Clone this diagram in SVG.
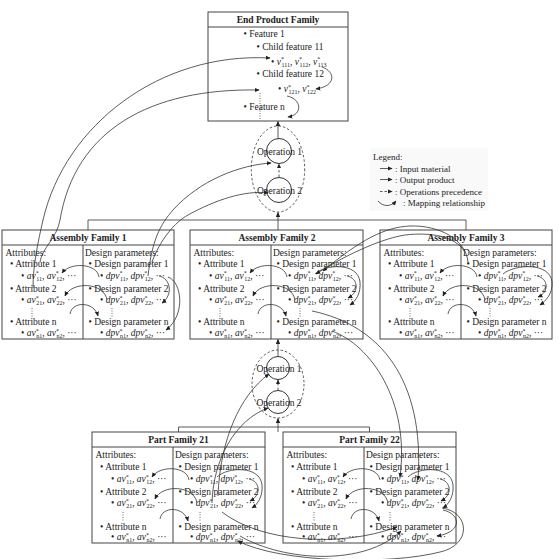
<svg xmlns="http://www.w3.org/2000/svg" width="559" height="559" viewBox="0 0 559 559">
<style>
.t{font-family:"Liberation Serif","Times New Roman",serif;font-size:9.5px;fill:#222}
.b{font-weight:bold}
.i{font-style:italic}
.s{font-size:6px}
.lg{font-size:9px}
.box{fill:#fff;stroke:#444;stroke-width:1}
.bl{stroke:#444;stroke-width:1}
.ln{fill:none;stroke:#333;stroke-width:0.8}
.ar{fill:none;stroke:#333;stroke-width:0.8;marker-end:url(#ah)}
.da{stroke-dasharray:2.5,2}
.vd{stroke:#444;stroke-width:0.8;stroke-dasharray:1,1.5}
</style>
<defs>
<marker id="ah" viewBox="0 0 8 8" refX="7" refY="4" markerWidth="5" markerHeight="5" markerUnits="userSpaceOnUse" orient="auto"><path d="M0,0.5 L8,4 L0,7.5 z" fill="#222"/></marker>
</defs>
<rect width="559" height="559" fill="#fff"/>

<g id="ep">
<rect class="box" x="208" y="12" width="140" height="109"/>
<line class="bl" x1="208" y1="27" x2="348" y2="27"/>
<text class="t b" x="278" y="22.5" text-anchor="middle">End Product Family</text>
<text class="t" x="243.5" y="37">• Feature 1</text>
<text class="t" x="256.5" y="50">• Child feature 11</text>
<text class="t" x="271" y="64.5">• <tspan class="i">v</tspan><tspan class="s" dy="-3.5">*</tspan><tspan class="s" dx="-2.5" dy="5.5">111</tspan><tspan dy="-2">, </tspan><tspan class="i">v</tspan><tspan class="s" dy="-3.5">*</tspan><tspan class="s" dx="-2.5" dy="5.5">112</tspan><tspan dy="-2">, </tspan><tspan class="i">v</tspan><tspan class="s" dy="-3.5">*</tspan><tspan class="s" dx="-2.5" dy="5.5">113</tspan></text>
<text class="t" x="256.5" y="76.5">• Child feature 12</text>
<text class="t" x="278" y="92">• <tspan class="i">v</tspan><tspan class="s" dy="-3.5">*</tspan><tspan class="s" dx="-2.5" dy="5.5">121</tspan><tspan dy="-2">, </tspan><tspan class="i">v</tspan><tspan class="s" dy="-3.5">*</tspan><tspan class="s" dx="-2.5" dy="5.5">122</tspan></text>
<text class="t" x="243.5" y="110">• Feature n</text>
<line class="vd" x1="260" y1="93" x2="260" y2="120"/>
<path class="ar" d="M322,67 C336,72 336,86 316,89"/>
<path class="ar" d="M287,96 C302,99 303,115 288,117"/>
</g>

<g id="ops-top">
<ellipse cx="278" cy="169" rx="26.7" ry="43" fill="none" stroke="#333" stroke-width="0.8" stroke-dasharray="2.5,2"/>
<circle cx="279" cy="151" r="12.5" fill="none" stroke="#333" stroke-width="1"/>
<circle cx="279" cy="190" r="12.5" fill="none" stroke="#333" stroke-width="1"/>
<text class="t" x="279.5" y="154.5" text-anchor="middle">Operation 1</text>
<text class="t" x="279.5" y="193.5" text-anchor="middle">Operation 2</text>
</g>

<g id="ops-bottom">
<ellipse cx="278" cy="384" rx="26" ry="34" fill="none" stroke="#333" stroke-width="0.8" stroke-dasharray="2.5,2"/>
<circle cx="278" cy="368" r="11.5" fill="none" stroke="#333" stroke-width="1"/>
<circle cx="278" cy="402" r="11.5" fill="none" stroke="#333" stroke-width="1"/>
<text class="t" x="279" y="371.5" text-anchor="middle">Operation 1</text>
<text class="t" x="279" y="405.5" text-anchor="middle">Operation 2</text>
</g>

<g id="legend">
<rect x="370" y="148" width="118" height="63" fill="#f9f9f9"/>
<text class="t lg" x="373" y="160">Legend:</text>
<line class="ar" x1="380" y1="168.5" x2="392" y2="168.5"/>
<text class="t lg" x="395" y="171.5">: Input material</text>
<line class="ar" x1="380" y1="179.5" x2="392" y2="179.5"/>
<text class="t lg" x="395" y="182.5">: Output product</text>
<line class="ar da" x1="380" y1="191.5" x2="392" y2="191.5"/>
<text class="t lg" x="395" y="194.5">: Operations precedence</text>
<path class="ar" d="M378,201 C383,207 391,207 396,201"/>
<text class="t lg" x="403" y="206">: Mapping relationship</text>
</g>

<g id="af1" transform="translate(2,230)">
<rect class="box" width="172" height="109"/>
<line class="bl" x1="0" y1="15" x2="172" y2="15"/>
<line class="bl" x1="81" y1="15" x2="81" y2="109"/>
<text class="t b" x="86" y="11" text-anchor="middle">Assembly Family 1</text>
<text class="t" x="3.5" y="26">Attributes:</text>
<text class="t" x="8" y="37">• Attribute 1</text>
<text class="t" x="19" y="48.5">• <tspan class="i">av</tspan><tspan class="s" dy="-3.5">*</tspan><tspan class="s" dx="-2.5" dy="5.5">11</tspan><tspan dy="-2">, </tspan><tspan class="i">av</tspan><tspan class="s" dy="-3.5">*</tspan><tspan class="s" dx="-2.5" dy="5.5">12</tspan><tspan dy="-2">, ···</tspan></text>
<text class="t" x="8" y="62">• Attribute 2</text>
<text class="t" x="19" y="73">• <tspan class="i">av</tspan><tspan class="s" dy="-3.5">*</tspan><tspan class="s" dx="-2.5" dy="5.5">21</tspan><tspan dy="-2">, </tspan><tspan class="i">av</tspan><tspan class="s" dy="-3.5">*</tspan><tspan class="s" dx="-2.5" dy="5.5">22</tspan><tspan dy="-2">, ···</tspan></text>
<line class="vd" x1="30" y1="78" x2="30" y2="87"/>
<text class="t" x="8" y="95">• Attribute n</text>
<text class="t" x="19" y="106">• <tspan class="i">av</tspan><tspan class="s" dy="-3.5">*</tspan><tspan class="s" dx="-2.5" dy="5.5">n1</tspan><tspan dy="-2">, </tspan><tspan class="i">av</tspan><tspan class="s" dy="-3.5">*</tspan><tspan class="s" dx="-2.5" dy="5.5">n2</tspan><tspan dy="-2">, ···</tspan></text>
<text class="t" x="83" y="26">Design parameters:</text>
<text class="t" x="86.5" y="37">• Design parameter 1</text>
<text class="t" x="98" y="48.5">• <tspan class="i">dpv</tspan><tspan class="s" dy="-3.5">*</tspan><tspan class="s" dx="-2.5" dy="5.5">11</tspan><tspan dy="-2">, </tspan><tspan class="i">dpv</tspan><tspan class="s" dy="-3.5">*</tspan><tspan class="s" dx="-2.5" dy="5.5">12</tspan><tspan dy="-2">, ···</tspan></text>
<text class="t" x="86.5" y="62">• Design parameter 2</text>
<text class="t" x="98" y="73">• <tspan class="i">dpv</tspan><tspan class="s" dy="-3.5">*</tspan><tspan class="s" dx="-2.5" dy="5.5">21</tspan><tspan dy="-2">, </tspan><tspan class="i">dpv</tspan><tspan class="s" dy="-3.5">*</tspan><tspan class="s" dx="-2.5" dy="5.5">22</tspan><tspan dy="-2">, ···</tspan></text>
<line class="vd" x1="110" y1="78" x2="110" y2="87"/>
<text class="t" x="86.5" y="95">• Design parameter n</text>
<text class="t" x="98" y="106">• <tspan class="i">dpv</tspan><tspan class="s" dy="-3.5">*</tspan><tspan class="s" dx="-2.5" dy="5.5">n1</tspan><tspan dy="-2">, </tspan><tspan class="i">dpv</tspan><tspan class="s" dy="-3.5">*</tspan><tspan class="s" dx="-2.5" dy="5.5">n2</tspan><tspan dy="-2">, ···</tspan></text>
<path class="ar" d="M97,47 C95,33 68,32 60,43"/>
<path class="ar" d="M105,70 C102,52 70,51 63,66"/>
<path class="ar" d="M68,84 C70,71 92,71 96,86"/>
<path class="ar" d="M166,47 C180,52 184,85 164,100"/>
<path class="ar" d="M157,46 C168,48 172,64 160,73"/>
</g>

<g id="af2" transform="translate(190,230)">
<rect class="box" width="173" height="109"/>
<line class="bl" x1="0" y1="15" x2="173" y2="15"/>
<line class="bl" x1="81" y1="15" x2="81" y2="109"/>
<text class="t b" x="87" y="11" text-anchor="middle">Assembly Family 2</text>
<text class="t" x="3.5" y="26">Attributes:</text>
<text class="t" x="8" y="37">• Attribute 1</text>
<text class="t" x="19" y="48.5">• <tspan class="i">av</tspan><tspan class="s" dy="-3.5">*</tspan><tspan class="s" dx="-2.5" dy="5.5">11</tspan><tspan dy="-2">, </tspan><tspan class="i">av</tspan><tspan class="s" dy="-3.5">*</tspan><tspan class="s" dx="-2.5" dy="5.5">12</tspan><tspan dy="-2">, ···</tspan></text>
<text class="t" x="8" y="62">• Attribute 2</text>
<text class="t" x="19" y="73">• <tspan class="i">av</tspan><tspan class="s" dy="-3.5">*</tspan><tspan class="s" dx="-2.5" dy="5.5">21</tspan><tspan dy="-2">, </tspan><tspan class="i">av</tspan><tspan class="s" dy="-3.5">*</tspan><tspan class="s" dx="-2.5" dy="5.5">22</tspan><tspan dy="-2">, ···</tspan></text>
<line class="vd" x1="30" y1="78" x2="30" y2="87"/>
<text class="t" x="8" y="95">• Attribute n</text>
<text class="t" x="19" y="106">• <tspan class="i">av</tspan><tspan class="s" dy="-3.5">*</tspan><tspan class="s" dx="-2.5" dy="5.5">n1</tspan><tspan dy="-2">, </tspan><tspan class="i">av</tspan><tspan class="s" dy="-3.5">*</tspan><tspan class="s" dx="-2.5" dy="5.5">n2</tspan><tspan dy="-2">, ···</tspan></text>
<text class="t" x="83" y="26">Design parameters:</text>
<text class="t" x="86.5" y="37">• Design parameter 1</text>
<text class="t" x="98" y="48.5">• <tspan class="i">dpv</tspan><tspan class="s" dy="-3.5">*</tspan><tspan class="s" dx="-2.5" dy="5.5">11</tspan><tspan dy="-2">, </tspan><tspan class="i">dpv</tspan><tspan class="s" dy="-3.5">*</tspan><tspan class="s" dx="-2.5" dy="5.5">12</tspan><tspan dy="-2">, ···</tspan></text>
<text class="t" x="86.5" y="62">• Design parameter 2</text>
<text class="t" x="98" y="73">• <tspan class="i">dpv</tspan><tspan class="s" dy="-3.5">*</tspan><tspan class="s" dx="-2.5" dy="5.5">21</tspan><tspan dy="-2">, </tspan><tspan class="i">dpv</tspan><tspan class="s" dy="-3.5">*</tspan><tspan class="s" dx="-2.5" dy="5.5">22</tspan><tspan dy="-2">, ···</tspan></text>
<line class="vd" x1="110" y1="78" x2="110" y2="87"/>
<text class="t" x="86.5" y="95">• Design parameter n</text>
<text class="t" x="98" y="106">• <tspan class="i">dpv</tspan><tspan class="s" dy="-3.5">*</tspan><tspan class="s" dx="-2.5" dy="5.5">n1</tspan><tspan dy="-2">, </tspan><tspan class="i">dpv</tspan><tspan class="s" dy="-3.5">*</tspan><tspan class="s" dx="-2.5" dy="5.5">n2</tspan><tspan dy="-2">, ···</tspan></text>
<path class="ar" d="M97,47 C95,33 68,32 60,43"/>
<path class="ar" d="M105,70 C102,52 70,51 63,66"/>
<path class="ar" d="M68,84 C70,71 92,71 96,86"/>
<path class="ar" d="M125,44 C135,34 168,32 170,52 C171,63 166,71 160,75"/>
<path class="ar" d="M157,46 C168,48 170,62 158,68"/>
</g>

<g id="af3" transform="translate(380,230)">
<rect class="box" width="172" height="109"/>
<line class="bl" x1="0" y1="15" x2="172" y2="15"/>
<line class="bl" x1="81" y1="15" x2="81" y2="109"/>
<text class="t b" x="86" y="11" text-anchor="middle">Assembly Family 3</text>
<text class="t" x="3.5" y="26">Attributes:</text>
<text class="t" x="8" y="37">• Attribute 1</text>
<text class="t" x="19" y="48.5">• <tspan class="i">av</tspan><tspan class="s" dy="-3.5">*</tspan><tspan class="s" dx="-2.5" dy="5.5">11</tspan><tspan dy="-2">, </tspan><tspan class="i">av</tspan><tspan class="s" dy="-3.5">*</tspan><tspan class="s" dx="-2.5" dy="5.5">12</tspan><tspan dy="-2">, ···</tspan></text>
<text class="t" x="8" y="62">• Attribute 2</text>
<text class="t" x="19" y="73">• <tspan class="i">av</tspan><tspan class="s" dy="-3.5">*</tspan><tspan class="s" dx="-2.5" dy="5.5">21</tspan><tspan dy="-2">, </tspan><tspan class="i">av</tspan><tspan class="s" dy="-3.5">*</tspan><tspan class="s" dx="-2.5" dy="5.5">22</tspan><tspan dy="-2">, ···</tspan></text>
<line class="vd" x1="30" y1="78" x2="30" y2="87"/>
<text class="t" x="8" y="95">• Attribute n</text>
<text class="t" x="19" y="106">• <tspan class="i">av</tspan><tspan class="s" dy="-3.5">*</tspan><tspan class="s" dx="-2.5" dy="5.5">n1</tspan><tspan dy="-2">, </tspan><tspan class="i">av</tspan><tspan class="s" dy="-3.5">*</tspan><tspan class="s" dx="-2.5" dy="5.5">n2</tspan><tspan dy="-2">, ···</tspan></text>
<text class="t" x="83" y="26">Design parameters:</text>
<text class="t" x="86.5" y="37">• Design parameter 1</text>
<text class="t" x="98" y="48.5">• <tspan class="i">dpv</tspan><tspan class="s" dy="-3.5">*</tspan><tspan class="s" dx="-2.5" dy="5.5">11</tspan><tspan dy="-2">, </tspan><tspan class="i">dpv</tspan><tspan class="s" dy="-3.5">*</tspan><tspan class="s" dx="-2.5" dy="5.5">12</tspan><tspan dy="-2">, ···</tspan></text>
<text class="t" x="86.5" y="62">• Design parameter 2</text>
<text class="t" x="98" y="73">• <tspan class="i">dpv</tspan><tspan class="s" dy="-3.5">*</tspan><tspan class="s" dx="-2.5" dy="5.5">21</tspan><tspan dy="-2">, </tspan><tspan class="i">dpv</tspan><tspan class="s" dy="-3.5">*</tspan><tspan class="s" dx="-2.5" dy="5.5">22</tspan><tspan dy="-2">, ···</tspan></text>
<line class="vd" x1="110" y1="78" x2="110" y2="87"/>
<text class="t" x="86.5" y="95">• Design parameter n</text>
<text class="t" x="98" y="106">• <tspan class="i">dpv</tspan><tspan class="s" dy="-3.5">*</tspan><tspan class="s" dx="-2.5" dy="5.5">n1</tspan><tspan dy="-2">, </tspan><tspan class="i">dpv</tspan><tspan class="s" dy="-3.5">*</tspan><tspan class="s" dx="-2.5" dy="5.5">n2</tspan><tspan dy="-2">, ···</tspan></text>
<path class="ar" d="M97,47 C95,33 68,32 60,43"/>
<path class="ar" d="M105,70 C102,52 70,51 63,66"/>
<path class="ar" d="M68,84 C70,71 92,71 96,86"/>
<path class="ar" d="M123,44 C135,34 170,32 172,52 C173,63 166,71 160,75"/>
<path class="ar" d="M157,46 C168,48 170,62 158,67"/>
</g>

<g id="pf21" transform="translate(92,432)">
<rect class="box" width="173" height="111"/>
<line class="bl" x1="0" y1="15" x2="173" y2="15"/>
<line class="bl" x1="81" y1="15" x2="81" y2="111"/>
<text class="t b" x="86.5" y="11" text-anchor="middle">Part Family 21</text>
<text class="t" x="3.5" y="26">Attributes:</text>
<text class="t" x="8" y="38">• Attribute 1</text>
<text class="t" x="19" y="50">• <tspan class="i">av</tspan><tspan class="s" dy="-3.5">*</tspan><tspan class="s" dx="-2.5" dy="5.5">11</tspan><tspan dy="-2">, </tspan><tspan class="i">av</tspan><tspan class="s" dy="-3.5">*</tspan><tspan class="s" dx="-2.5" dy="5.5">12</tspan><tspan dy="-2">, ···</tspan></text>
<text class="t" x="8" y="62.5">• Attribute 2</text>
<text class="t" x="19" y="74">• <tspan class="i">av</tspan><tspan class="s" dy="-3.5">*</tspan><tspan class="s" dx="-2.5" dy="5.5">21</tspan><tspan dy="-2">, </tspan><tspan class="i">av</tspan><tspan class="s" dy="-3.5">*</tspan><tspan class="s" dx="-2.5" dy="5.5">22</tspan><tspan dy="-2">, ···</tspan></text>
<line class="vd" x1="31" y1="80" x2="31" y2="89"/>
<text class="t" x="8" y="97.5">• Attribute n</text>
<text class="t" x="19" y="108">• <tspan class="i">av</tspan><tspan class="s" dy="-3.5">*</tspan><tspan class="s" dx="-2.5" dy="5.5">n1</tspan><tspan dy="-2">, </tspan><tspan class="i">av</tspan><tspan class="s" dy="-3.5">*</tspan><tspan class="s" dx="-2.5" dy="5.5">n2</tspan><tspan dy="-2">, ···</tspan></text>
<text class="t" x="83" y="26">Design parameters:</text>
<text class="t" x="86.5" y="38">• Design parameter 1</text>
<text class="t" x="98" y="50">• <tspan class="i">dpv</tspan><tspan class="s" dy="-3.5">*</tspan><tspan class="s" dx="-2.5" dy="5.5">11</tspan><tspan dy="-2">, </tspan><tspan class="i">dpv</tspan><tspan class="s" dy="-3.5">*</tspan><tspan class="s" dx="-2.5" dy="5.5">12</tspan><tspan dy="-2">, ···</tspan></text>
<text class="t" x="86.5" y="62.5">• Design parameter 2</text>
<text class="t" x="98" y="74">• <tspan class="i">dpv</tspan><tspan class="s" dy="-3.5">*</tspan><tspan class="s" dx="-2.5" dy="5.5">21</tspan><tspan dy="-2">, </tspan><tspan class="i">dpv</tspan><tspan class="s" dy="-3.5">*</tspan><tspan class="s" dx="-2.5" dy="5.5">22</tspan><tspan dy="-2">, ···</tspan></text>
<line class="vd" x1="108" y1="80" x2="108" y2="89"/>
<text class="t" x="86.5" y="97.5">• Design parameter n</text>
<text class="t" x="98" y="108">• <tspan class="i">dpv</tspan><tspan class="s" dy="-3.5">*</tspan><tspan class="s" dx="-2.5" dy="5.5">n1</tspan><tspan dy="-2">, </tspan><tspan class="i">dpv</tspan><tspan class="s" dy="-3.5">*</tspan><tspan class="s" dx="-2.5" dy="5.5">n2</tspan><tspan dy="-2">, ···</tspan></text>
<path class="ar" d="M97,48 C95,34 68,33 60,45"/>
<path class="ar" d="M105,71 C102,53 70,52 63,67"/>
<path class="ar" d="M68,87 C70,74 92,74 96,89"/>
<path class="ar" d="M125,45 C135,35 168,33 170,53 C171,64 166,72 160,76"/>
<path class="ar" d="M157,47 C168,49 170,63 158,69"/>
</g>

<g id="pf22" transform="translate(283,432)">
<rect class="box" width="173" height="111"/>
<line class="bl" x1="0" y1="15" x2="173" y2="15"/>
<line class="bl" x1="81" y1="15" x2="81" y2="111"/>
<text class="t b" x="86.5" y="11" text-anchor="middle">Part Family 22</text>
<text class="t" x="3.5" y="26">Attributes:</text>
<text class="t" x="8" y="38">• Attribute 1</text>
<text class="t" x="19" y="50">• <tspan class="i">av</tspan><tspan class="s" dy="-3.5">*</tspan><tspan class="s" dx="-2.5" dy="5.5">11</tspan><tspan dy="-2">, </tspan><tspan class="i">av</tspan><tspan class="s" dy="-3.5">*</tspan><tspan class="s" dx="-2.5" dy="5.5">12</tspan><tspan dy="-2">, ···</tspan></text>
<text class="t" x="8" y="62.5">• Attribute 2</text>
<text class="t" x="19" y="74">• <tspan class="i">av</tspan><tspan class="s" dy="-3.5">*</tspan><tspan class="s" dx="-2.5" dy="5.5">21</tspan><tspan dy="-2">, </tspan><tspan class="i">av</tspan><tspan class="s" dy="-3.5">*</tspan><tspan class="s" dx="-2.5" dy="5.5">22</tspan><tspan dy="-2">, ···</tspan></text>
<line class="vd" x1="31" y1="80" x2="31" y2="89"/>
<text class="t" x="8" y="97.5">• Attribute n</text>
<text class="t" x="19" y="108">• <tspan class="i">av</tspan><tspan class="s" dy="-3.5">*</tspan><tspan class="s" dx="-2.5" dy="5.5">n1</tspan><tspan dy="-2">, </tspan><tspan class="i">av</tspan><tspan class="s" dy="-3.5">*</tspan><tspan class="s" dx="-2.5" dy="5.5">n2</tspan><tspan dy="-2">, ···</tspan></text>
<text class="t" x="83" y="26">Design parameters:</text>
<text class="t" x="86.5" y="38">• Design parameter 1</text>
<text class="t" x="98" y="50">• <tspan class="i">dpv</tspan><tspan class="s" dy="-3.5">*</tspan><tspan class="s" dx="-2.5" dy="5.5">11</tspan><tspan dy="-2">, </tspan><tspan class="i">dpv</tspan><tspan class="s" dy="-3.5">*</tspan><tspan class="s" dx="-2.5" dy="5.5">12</tspan><tspan dy="-2">, ···</tspan></text>
<text class="t" x="86.5" y="62.5">• Design parameter 2</text>
<text class="t" x="98" y="74">• <tspan class="i">dpv</tspan><tspan class="s" dy="-3.5">*</tspan><tspan class="s" dx="-2.5" dy="5.5">21</tspan><tspan dy="-2">, </tspan><tspan class="i">dpv</tspan><tspan class="s" dy="-3.5">*</tspan><tspan class="s" dx="-2.5" dy="5.5">22</tspan><tspan dy="-2">, ···</tspan></text>
<line class="vd" x1="107" y1="80" x2="107" y2="89"/>
<text class="t" x="86.5" y="97.5">• Design parameter n</text>
<text class="t" x="98" y="108">• <tspan class="i">dpv</tspan><tspan class="s" dy="-3.5">*</tspan><tspan class="s" dx="-2.5" dy="5.5">n1</tspan><tspan dy="-2">, </tspan><tspan class="i">dpv</tspan><tspan class="s" dy="-3.5">*</tspan><tspan class="s" dx="-2.5" dy="5.5">n2</tspan><tspan dy="-2">, ···</tspan></text>
<path class="ar" d="M97,48 C95,34 68,33 60,45"/>
<path class="ar" d="M105,71 C102,53 70,52 63,67"/>
<path class="ar" d="M68,87 C70,74 92,74 96,89"/>
<path class="ar" d="M125,45 C135,35 168,33 170,53 C171,64 166,72 160,76"/>
<path class="ar" d="M157,47 C168,49 170,63 158,69"/>
<path class="ar" d="M160,78 C178,82 180,100 154,104"/>
</g>

<g id="connectors">
<path class="ln" d="M88,230 V220 H466 V230"/>
<path class="ln" d="M178.5,432 V427 H369.5 V432"/>
<line class="ar" x1="278" y1="230" x2="278" y2="212.5"/>
<line class="ar da" x1="279" y1="177" x2="279" y2="164"/>
<line class="ar" x1="278" y1="138.5" x2="278" y2="121.5"/>
<line class="ar" x1="278" y1="432" x2="278" y2="418.5"/>
<line class="ar da" x1="278" y1="390" x2="278" y2="380"/>
<line class="ar" x1="278" y1="356.5" x2="278" y2="339.5"/>
<path class="ar" d="M33,288 C33,265 38,242 43,220 C65,125 160,52 270,58"/>
<path class="ar" d="M40,262 C42,248 57,238 60,220 C75,130 150,88 259,90"/>
<path class="ar" d="M148,276 C152,240 160,225 173,210 C200,180 240,165 271,163"/>
<path class="ar" d="M152,262 C160,240 175,222 188,215 C215,200 245,190 268,193"/>
<path class="ar" d="M468,262 C466,240 440,225 410,226 C385,227 360,240 323,271"/>
<path class="ar" d="M464,251 C455,236 430,232 405,235 C385,238 350,252 316,274"/>
<path class="ar" d="M312,311 C380,325 425,380 418,480"/>
<path class="ar" d="M332,331 C370,345 410,400 400,477"/>
<path class="ar" d="M218,496 C220,440 240,395 269,374"/>
<path class="ar" d="M212,503 C213,460 235,420 268,408"/>
<path class="ar" d="M222,512 C260,542 340,548 397,527"/>
<path class="ar" d="M240,536 C285,562 365,566 401,531"/>
<path class="ar" d="M442,508 C470,512 472,545 440,552 C390,565 280,563 238,541"/>
</g>
</svg>
